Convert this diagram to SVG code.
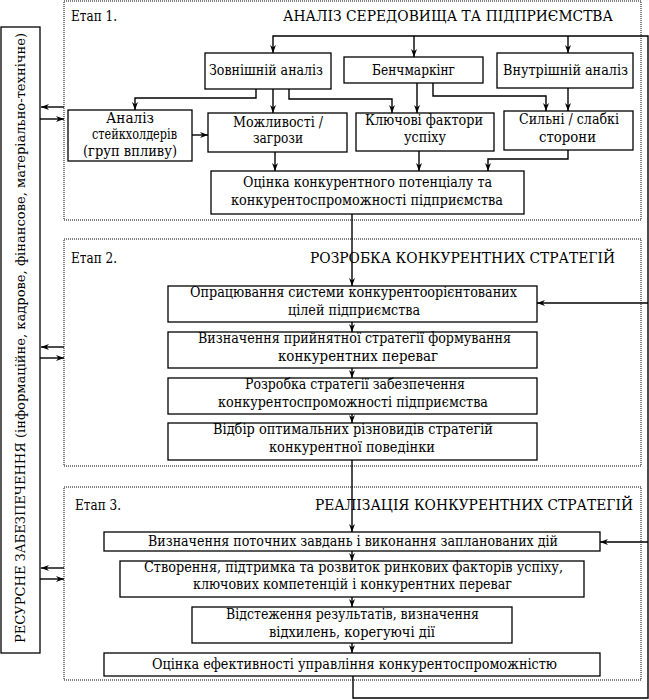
<svg xmlns="http://www.w3.org/2000/svg" width="649" height="700" viewBox="0 0 649 700" font-family="'DejaVu Serif', 'Liberation Serif', serif">
<style>
text{font-size:14px;fill:#000}
.box{fill:#fff;stroke:#000;stroke-width:1.3}
.stage{fill:none;stroke:#000;stroke-width:1;stroke-dasharray:1,1}
.c{fill:none;stroke:#000;stroke-width:1.4}
.a{marker-end:url(#ah)}
</style>
<defs>
<marker id="ah" markerUnits="userSpaceOnUse" markerWidth="8" markerHeight="6" refX="8" refY="3" orient="auto">
<path d="M0,0 L8,3 L0,6 L2.5,3 z" fill="#000"/>
</marker>
</defs>
<rect width="649" height="700" fill="#fff"/>

<g id="stage1">
<rect class="stage" x="64" y="1" width="577" height="219"/>
<text x="71" y="21" textLength="46" lengthAdjust="spacingAndGlyphs">Етап 1.</text>
<text x="283" y="21" textLength="330" lengthAdjust="spacingAndGlyphs">АНАЛІЗ СЕРЕДОВИЩА ТА ПІДПРИЄМСТВА</text>
</g>
<g id="stage2">
<rect class="stage" x="64" y="239" width="577" height="227"/>
<text x="71" y="263" textLength="46" lengthAdjust="spacingAndGlyphs">Етап 2.</text>
<text x="310" y="263" textLength="305" lengthAdjust="spacingAndGlyphs">РОЗРОБКА КОНКУРЕНТНИХ СТРАТЕГІЙ</text>
</g>
<g id="stage3">
<rect class="stage" x="64" y="487" width="577" height="193"/>
<text x="75" y="510" textLength="46" lengthAdjust="spacingAndGlyphs">Етап 3.</text>
<text x="315" y="510" textLength="318" lengthAdjust="spacingAndGlyphs">РЕАЛІЗАЦІЯ КОНКУРЕНТНИХ СТРАТЕГІЙ</text>
</g>

<g id="resources">
<rect class="box" x="1" y="27" width="39" height="626"/>
<text transform="translate(25,643) rotate(-90)" x="0" y="0" style="font-size:13px" textLength="610" lengthAdjust="spacingAndGlyphs">РЕСУРСНЕ ЗАБЕЗПЕЧЕННЯ (інформаційне, кадрове, фінансове, матеріально-технічне)</text>
</g>

<g id="connectors">
<path class="c a" d="M353,676 V698 H648 V36 H273 V53"/>
<path class="c a" d="M414,36 V57"/>
<path class="c a" d="M568,36 V53"/>
<path class="c a" d="M648,303 H537"/>
<path class="c a" d="M648,542 H600"/>
<path class="c a" d="M273,89 V113"/>
<path class="c a" d="M256,89 V98 H135 V110"/>
<path class="c a" d="M289,89 V99 H392 V113"/>
<path class="c a" d="M417,83 V113"/>
<path class="c a" d="M433,83 V96 H546 V111"/>
<path class="c a" d="M568,88 V111"/>
<path class="c a" d="M192,135 H208"/>
<path class="c a" d="M275,152 V171"/>
<path class="c a" d="M419,151 V171"/>
<path class="c a" d="M568,150 V159 H488 V171"/>
<path class="c a" d="M352,214 V286"/>
<path class="c a" d="M352,322 V332"/>
<path class="c a" d="M352,368 V378"/>
<path class="c a" d="M352,414 V423"/>
<path class="c a" d="M352,460 V532"/>
<path class="c a" d="M352,551 V561"/>
<path class="c a" d="M352,597 V607"/>
<path class="c a" d="M352,643 V653"/>
<path class="c a" d="M64,107 H41"/>
<path class="c a" d="M40,119 H64"/>
<path class="c a" d="M64,347 H41"/>
<path class="c a" d="M40,358 H64"/>
<path class="c a" d="M64,568 H41"/>
<path class="c a" d="M40,579 H64"/>
</g>

<g id="external">
<rect class="box" x="205" y="53" width="126" height="36"/>
<text x="209" y="75" textLength="114" lengthAdjust="spacingAndGlyphs">Зовнішній аналіз</text>
</g>
<g id="benchmarking">
<rect class="box" x="344" y="57" width="139" height="26"/>
<text x="372" y="75" textLength="83" lengthAdjust="spacingAndGlyphs">Бенчмаркінг</text>
</g>
<g id="internal">
<rect class="box" x="497" y="53" width="136" height="35"/>
<text x="503" y="75" textLength="125" lengthAdjust="spacingAndGlyphs">Внутрішній аналіз</text>
</g>
<g id="stakeholders">
<rect class="box" x="68" y="110" width="124" height="51"/>
<text x="106" y="123" textLength="48" lengthAdjust="spacingAndGlyphs">Аналіз</text>
<text x="92" y="139" textLength="85" lengthAdjust="spacingAndGlyphs">стейкхолдерів</text>
<text x="83" y="156" textLength="94" lengthAdjust="spacingAndGlyphs">(груп впливу)</text>
</g>
<g id="opportunities">
<rect class="box" x="208" y="113" width="139" height="39"/>
<text x="233" y="127" textLength="90" lengthAdjust="spacingAndGlyphs">Можливості /</text>
<text x="253" y="143" textLength="50" lengthAdjust="spacingAndGlyphs">загрози</text>
</g>
<g id="ksf">
<rect class="box" x="356" y="113" width="138" height="38"/>
<text x="365" y="125" textLength="118" lengthAdjust="spacingAndGlyphs">Ключові фактори</text>
<text x="404" y="142" textLength="42" lengthAdjust="spacingAndGlyphs">успіху</text>
</g>
<g id="swot">
<rect class="box" x="504" y="111" width="129" height="39"/>
<text x="519" y="124" textLength="100" lengthAdjust="spacingAndGlyphs">Сильні / слабкі</text>
<text x="539" y="142" textLength="57" lengthAdjust="spacingAndGlyphs">сторони</text>
</g>
<g id="assessment">
<rect class="box" x="211" y="171" width="313" height="43"/>
<text x="243" y="187" textLength="249" lengthAdjust="spacingAndGlyphs">Оцінка конкурентного потенціалу та</text>
<text x="231" y="205" textLength="272" lengthAdjust="spacingAndGlyphs">конкурентоспроможності підприємства</text>
</g>

<g id="goals">
<rect class="box" x="168" y="286" width="369" height="36"/>
<text x="190" y="297" textLength="327" lengthAdjust="spacingAndGlyphs">Опрацювання системи конкурентоорієнтованих</text>
<text x="288" y="315" textLength="132" lengthAdjust="spacingAndGlyphs">цілей підприємства</text>
</g>
<g id="strategy-choice">
<rect class="box" x="168" y="332" width="369" height="36"/>
<text x="198" y="343" textLength="313" lengthAdjust="spacingAndGlyphs">Визначення прийнятної стратегії формування</text>
<text x="278" y="361" textLength="160" lengthAdjust="spacingAndGlyphs">конкурентних переваг</text>
</g>
<g id="strategy-dev">
<rect class="box" x="168" y="378" width="369" height="36"/>
<text x="245" y="389" textLength="220" lengthAdjust="spacingAndGlyphs">Розробка стратегії забезпечення</text>
<text x="218" y="407" textLength="270" lengthAdjust="spacingAndGlyphs">конкурентоспроможності підприємства</text>
</g>
<g id="selection">
<rect class="box" x="168" y="423" width="369" height="37"/>
<text x="213" y="434" textLength="280" lengthAdjust="spacingAndGlyphs">Відбір оптимальних різновидів стратегій</text>
<text x="269" y="452" textLength="166" lengthAdjust="spacingAndGlyphs">конкурентної поведінки</text>
</g>

<g id="tasks">
<rect class="box" x="104" y="532" width="496" height="19"/>
<text x="148" y="546" textLength="410" lengthAdjust="spacingAndGlyphs">Визначення поточних завдань і виконання запланованих дій</text>
</g>
<g id="development">
<rect class="box" x="120" y="561" width="464" height="36"/>
<text x="144" y="572" textLength="419" lengthAdjust="spacingAndGlyphs">Створення, підтримка та розвиток ринкових факторів успіху,</text>
<text x="193" y="589" textLength="319" lengthAdjust="spacingAndGlyphs">ключових компетенцій і конкурентних переваг</text>
</g>
<g id="monitoring">
<rect class="box" x="192" y="607" width="320" height="36"/>
<text x="226" y="619" textLength="253" lengthAdjust="spacingAndGlyphs">Відстеження результатів, визначення</text>
<text x="269" y="637" textLength="166" lengthAdjust="spacingAndGlyphs">відхилень, корегуючі дії</text>
</g>
<g id="efficiency">
<rect class="box" x="104" y="653" width="496" height="23"/>
<text x="152" y="669" textLength="405" lengthAdjust="spacingAndGlyphs">Оцінка ефективності управління конкурентоспроможністю</text>
</g>
</svg>
